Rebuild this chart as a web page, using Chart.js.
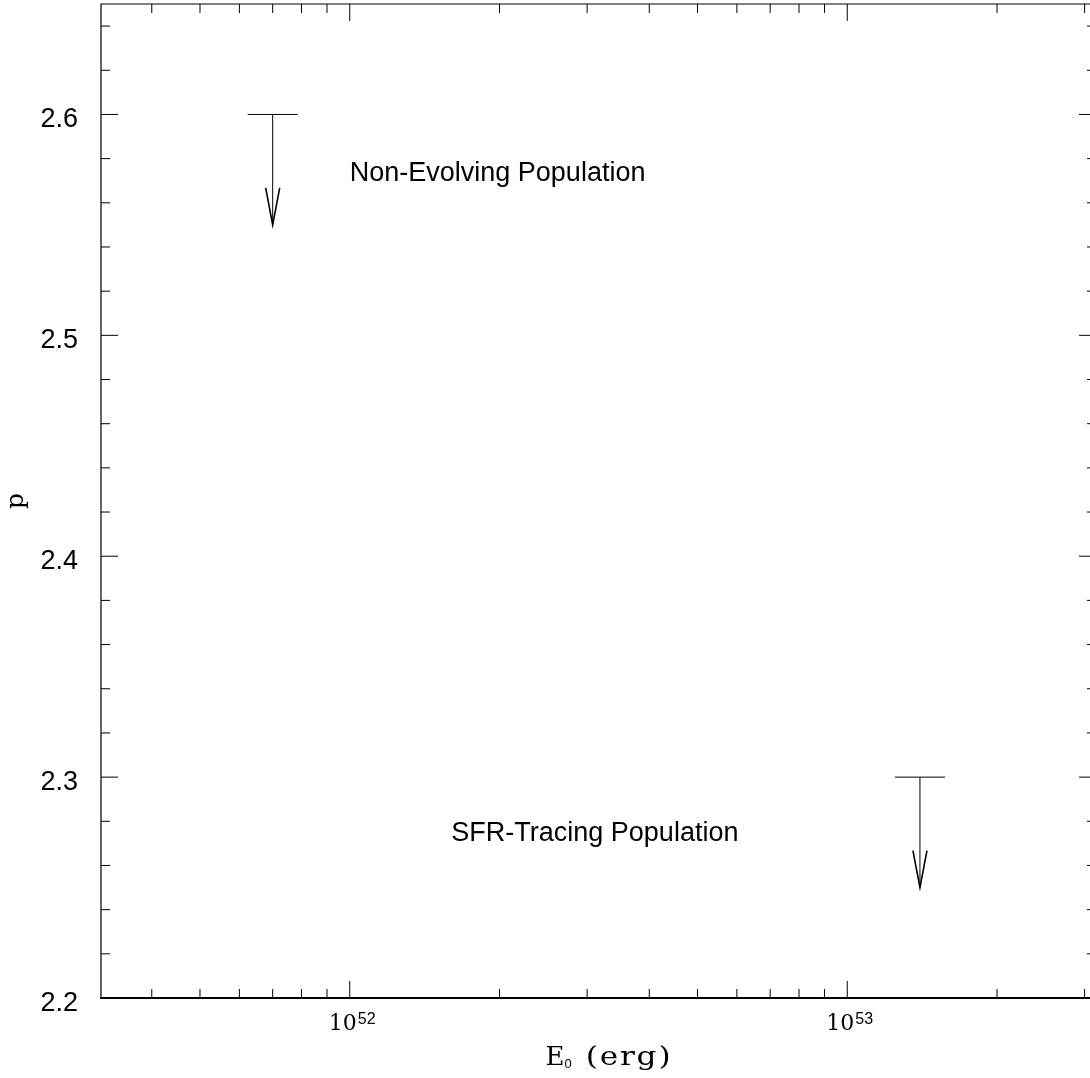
<!DOCTYPE html>
<html>
<head>
<meta charset="utf-8">
<style>
html,body{margin:0;padding:0;background:#fff;overflow:hidden;}
canvas{display:block;}
</style>
<script src="https://cdn.jsdelivr.net/npm/chart.js@4.4.0/dist/chart.umd.min.js"></script>
</head>
<body>
<canvas id="c" width="1100" height="1078" style="width:1100px;height:1078px"></canvas>
<script>
// ---- data ----
const energies = [7e51, 1.4e53];          // E0 (erg) of the upper limits
const pUpperLimits = [2.6, 2.3];          // upper limit on p
const arrowLengths = [0.05, 0.05];        // arrow length in p units
const xMajorValues = [1e52, 1e53];
const xMajorBase = ['10', '10'];
const xMajorExp = ['52', '53'];
const yMajorValues = [2.2, 2.3, 2.4, 2.5, 2.6];
const yMajorLabels = ['2.2', '2.3', '2.4', '2.5', '2.6'];
const annotationTexts = ['Non-Evolving Population', 'SFR-Tracing Population'];
const annotationX = [1e52, 1.6e52];
const annotationY = [2.57, 2.271];
const xMin = Math.pow(10, 51.5), xMax = Math.pow(10, 53.5);
const yMin = 2.2, yMax = 2.65;

const sans = '"Liberation Sans", Arial, Helvetica, sans-serif';
const serif = '"DejaVu Serif", "Liberation Serif", serif';

const decorPlugin = {
  id: 'decor',
  afterDatasetsDraw(chart) {
    const ctx = chart.ctx;
    const a = chart.chartArea;
    const xs = chart.scales.x, ys = chart.scales.y;
    ctx.save();
    ctx.strokeStyle = '#000';
    ctx.fillStyle = '#000';
    // frame
    ctx.lineWidth = 1.2;
    ctx.beginPath();
    ctx.moveTo(a.left, a.bottom); ctx.lineTo(a.left, a.top);
    ctx.lineTo(a.right, a.top); ctx.lineTo(a.right, a.bottom);
    ctx.stroke();
    ctx.lineWidth = 2;
    ctx.beginPath();
    ctx.moveTo(a.left - 1, a.bottom); ctx.lineTo(a.right, a.bottom);
    ctx.stroke();

    // x ticks (log)
    ctx.lineWidth = 1;
    for (let d = 51; d <= 53; d++) {
      for (let m = 1; m <= 9; m++) {
        const v = m * Math.pow(10, d);
        if (v < xMin || v > xMax) continue;
        const px = xs.getPixelForValue(v);
        const len = (m === 1) ? 17 : 9;
        ctx.beginPath();
        ctx.moveTo(px, a.bottom); ctx.lineTo(px, a.bottom - len);
        ctx.moveTo(px, a.top); ctx.lineTo(px, a.top + len);
        ctx.stroke();
      }
    }
    // y ticks
    for (let i = 0; i <= 22; i++) {
      const v = yMin + 0.02 * i;
      const py = ys.getPixelForValue(v);
      const len = (i % 5 === 0) ? 17 : 9;
      ctx.beginPath();
      ctx.moveTo(a.left, py); ctx.lineTo(a.left + len, py);
      ctx.moveTo(a.right, py); ctx.lineTo(a.right - len, py);
      ctx.stroke();
    }

    // y tick labels
    ctx.font = '27px ' + sans;
    ctx.textAlign = 'right';
    ctx.textBaseline = 'alphabetic';
    yMajorValues.forEach((v, i) => {
      ctx.fillText(yMajorLabels[i], 78, ys.getPixelForValue(v) + 13);
    });

    // x tick labels 10^n
    xMajorValues.forEach((v, i) => {
      const px = xs.getPixelForValue(v);
      ctx.font = '22px ' + serif;
      const wb = ctx.measureText(xMajorBase[i]).width;
      ctx.font = '16px ' + sans;
      const we = ctx.measureText(xMajorExp[i]).width;
      const start = px + 2 - (wb + we) / 2;
      ctx.textAlign = 'left';
      ctx.font = '22px ' + serif;
      ctx.fillText(xMajorBase[i], start, a.bottom + 32);
      ctx.font = '16px ' + sans;
      ctx.fillText(xMajorExp[i], start + wb + 1, a.bottom + 26);
    });

    // x axis title: E_0 (erg)
    {
      ctx.textAlign = 'left';
      const sx = 1.2, ls = 1.5;
      ctx.font = '26px ' + serif;
      const wE = ctx.measureText('E').width;
      ctx.font = '13px ' + sans;
      const w0 = ctx.measureText('0').width;
      ctx.font = '26px ' + serif;
      const wErg = (ctx.measureText('(erg)').width + 4 * ls) * sx;
      const gap = 14;
      const total = wE + w0 + gap + wErg;
      const start = 608 - total / 2;
      const base = a.bottom + 67;
      ctx.font = '26px ' + serif;
      ctx.fillText('E', start, base);
      ctx.font = '13px ' + sans;
      ctx.fillText('0', start + wE, base + 3);
      ctx.save();
      ctx.translate(start + wE + w0 + gap, base);
      ctx.scale(sx, 1);
      ctx.font = '26px ' + serif;
      try { ctx.letterSpacing = ls + 'px'; } catch (e) {}
      ctx.fillText('(erg)', 0, 0);
      ctx.restore();
    }
    // y axis title
    ctx.save();
    ctx.translate(23, (a.top + a.bottom) / 2);
    ctx.rotate(-Math.PI / 2);
    ctx.textAlign = 'center';
    ctx.font = '25px ' + serif;
    ctx.fillText('p', 0, 0);
    ctx.restore();

    // annotations
    ctx.font = '27px ' + sans;
    ctx.textAlign = 'left';
    annotationTexts.forEach((t, i) => {
      ctx.fillText(t, xs.getPixelForValue(annotationX[i]), ys.getPixelForValue(annotationY[i]));
    });

    // upper-limit arrows
    const meta = chart.getDatasetMeta(0);
    meta.data.forEach((pt, i) => {
      const px = pt.x, py = pt.y;
      const tip = ys.getPixelForValue(pUpperLimits[i] - arrowLengths[i]);
      ctx.lineWidth = 1;
      ctx.beginPath();
      ctx.moveTo(px - 25, py); ctx.lineTo(px + 25, py);
      ctx.moveTo(px, py); ctx.lineTo(px, tip);
      ctx.stroke();
      ctx.lineWidth = 1.6;
      ctx.beginPath();
      ctx.moveTo(px - 7, tip - 37); ctx.lineTo(px, tip); ctx.lineTo(px + 7, tip - 37);
      ctx.stroke();
    });
    ctx.restore();
  }
};

new Chart(document.getElementById('c'), {
  type: 'scatter',
  data: {
    datasets: [{
      data: energies.map((e, i) => ({ x: e, y: pUpperLimits[i] })),
      pointRadius: 0,
      showLine: false
    }]
  },
  options: {
    responsive: false,
    animation: false,
    devicePixelRatio: 1,
    layout: { padding: { left: 101, top: 4, right: 4, bottom: 80 } },
    plugins: { legend: { display: false }, tooltip: { enabled: false } },
    scales: {
      x: { type: 'logarithmic', min: xMin, max: xMax, display: false },
      y: { type: 'linear', min: yMin, max: yMax, display: false }
    }
  },
  plugins: [decorPlugin]
});
</script>
</body>
</html>
